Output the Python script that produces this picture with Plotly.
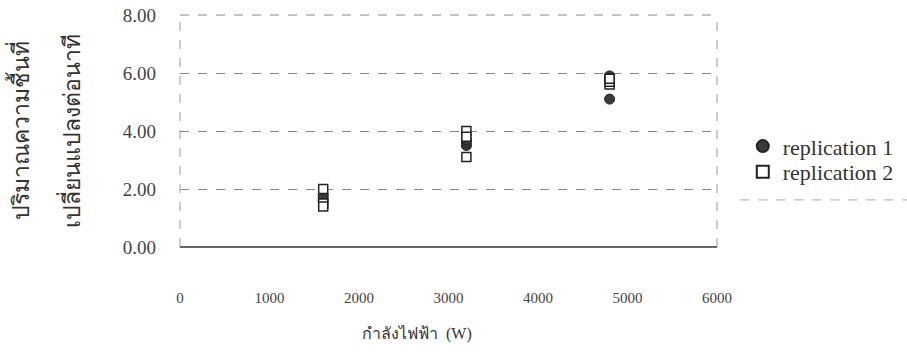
import plotly.graph_objects as go

power_w = [1600, 1600, 1600, 3200, 3200, 3200, 4800, 4800, 4800]
rep1 = [1.6, 1.7, 1.8, 3.5, 3.6, 3.7, 5.9, 5.8, 5.1]
rep2 = [2.0, 1.5, 1.4, 4.0, 3.8, 3.1, 5.6, 5.7, 5.8]
x_ticks = [0, 1000, 2000, 3000, 4000, 5000, 6000]
y_ticks = [0, 2, 4, 6, 8]
y_ticklabels = ["0.00", "2.00", "4.00", "6.00", "8.00"]

serif = "Liberation Serif"

fig = go.Figure()
fig.add_trace(go.Scatter(
    x=power_w, y=rep1, mode="markers", name="replication 1", legend="legend",
    marker=dict(symbol="circle", size=10, color="#3a3a3a",
                line=dict(color="#222", width=1))))
fig.add_trace(go.Scatter(
    x=power_w, y=rep2, mode="markers", name="replication 2", legend="legend2",
    marker=dict(symbol="square", size=9, color="white",
                line=dict(color="#222", width=1.5))))

legend_common = dict(xanchor="left", yanchor="middle",
                     font=dict(family=serif, size=22, color="#333"),
                     bgcolor="rgba(0,0,0,0)", itemsizing="constant")

fig.update_layout(
    width=907, height=357,
    margin=dict(l=180, r=190, t=15, b=110, autoexpand=False),
    paper_bgcolor="white", plot_bgcolor="white",
    font=dict(family=serif, color="#333", size=15),
    showlegend=True,
    legend=dict(x=1.048, y=0.434, **legend_common),
    legend2=dict(x=1.048, y=0.323, **legend_common),
    xaxis=dict(range=[0, 6000], tickvals=x_ticks, showgrid=False, zeroline=False,
               showline=False, ticks="", ticklabelstandoff=40,
               tickfont=dict(family=serif, size=15, color="#444")),
    yaxis=dict(range=[0, 8], tickvals=y_ticks, ticktext=y_ticklabels,
               showgrid=True, gridcolor="#888", griddash="dash", gridwidth=1,
               zeroline=False, showline=False, ticks="", ticklabelstandoff=23,
               tickfont=dict(family=serif, size=19, color="#444")),
)

# plot-area frame: dashed sides/top, solid bottom
fig.add_shape(type="line", xref="x domain", yref="y domain", x0=0, x1=0, y0=0, y1=1,
              line=dict(color="#999", width=1, dash="dash"))
fig.add_shape(type="line", xref="x domain", yref="y domain", x0=1, x1=1, y0=0, y1=1,
              line=dict(color="#999", width=1, dash="dash"))
fig.add_shape(type="line", xref="x domain", yref="y domain", x0=0, x1=1, y0=1, y1=1,
              line=dict(color="#888", width=1, dash="dash"))
fig.add_shape(type="line", xref="x domain", yref="y domain", x0=0, x1=1, y0=0, y1=0,
              line=dict(color="#333", width=1.5))
# legend box bottom edge
fig.add_shape(type="line", xref="paper", yref="paper", x0=1.043, x1=1.36, y0=0.203, y1=0.203,
              line=dict(color="#aaa", width=1, dash="dash"))

# x-axis title
fig.add_annotation(text="กำลังไฟฟ้า  (W)", xref="paper", yref="paper",
                   x=0.441, y=-0.371, yanchor="middle", showarrow=False,
                   font=dict(family=serif, size=16, color="#333"))

# y-axis title as two rotated lines
fig.add_annotation(text="ปริมาณความชื้นที่", xref="paper", yref="paper",
                   x=-0.33, y=0.5, textangle=-90, showarrow=False,
                   font=dict(family=serif, size=23, color="#333"))
fig.add_annotation(text="เปลี่ยนแปลงต่อนาที", xref="paper", yref="paper",
                   x=-0.235, y=0.5, textangle=-90, showarrow=False,
                   font=dict(family=serif, size=23, color="#333"))

fig.write_html("out.html")
